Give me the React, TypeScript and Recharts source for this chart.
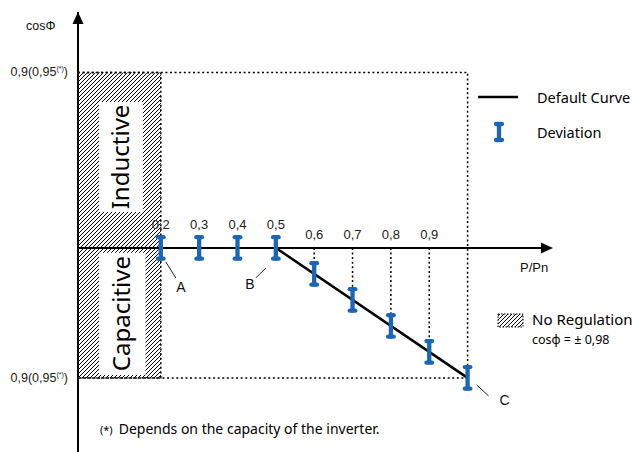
import React from 'react';
import {
  ComposedChart,
  Line,
  Scatter,
  ErrorBar,
  XAxis,
  YAxis,
  ReferenceArea,
  ReferenceLine,
  ReferenceDot,
} from 'recharts';

// P/Pn positions and the default cosΦ curve (y: signed offset from cosΦ = 1, capacitive below)
const curveX = [0.5, 1.0];
const curveY = [0, -0.1];
const ratios = [0.2, 0.3, 0.4, 0.5, 0.6, 0.7, 0.8, 0.9, 1.0];
const deviationY = [0, 0, 0, 0, -0.02, -0.04, -0.06, -0.08, -0.1];
const deviationErr = 0.0083;
const tickValues = [0.2, 0.3, 0.4, 0.5, 0.6, 0.7, 0.8, 0.9];
const tickLabels = ['0,2', '0,3', '0,4', '0,5', '0,6', '0,7', '0,8', '0,9'];
const dropX = [0.6, 0.7, 0.8, 0.9];
const dropY = [-0.02, -0.04, -0.06, -0.08];
const limitInductive = 0.135;
const limitCapacitive = -0.1;
const noRegulationEnd = 0.2;
const markNames = ['A', 'B', 'C'];
const markX = [0.2, 0.5, 1.0];
const markY = [0, 0, -0.1];

const curve = curveX.map((x, i) => ({ x, y: curveY[i] }));
const deviation = ratios.map((x, i) => ({ x, y: deviationY[i], err: deviationErr }));

const X_MIN = -0.0159;
const X_MAX = 1.2227;
const Y_MIN = -0.157;
const Y_MAX = 0.1815;

const BLUE = '#1b67b3';
const ARIAL = '"Liberation Sans", Arial, sans-serif';
const SEGOE = '"Noto Sans", "Open Sans", sans-serif';
const DOTS = '2 2.6';

// leader line + letter offsets for A, B, C
const markOffsets: Record<string, number[]> = {
  A: [5, 14, 15, 30, 20, 44],
  B: [-10, 20, -20, 30, -26, 41],
  C: [9, 7, 21, 18, 37, 27],
};

const YTick = (props: any) => (
  <text x={68} y={props.y} dy={4} textAnchor="end" fontSize={12.5} fontFamily={ARIAL} fill="#222">
    0,9(0,95
    <tspan fontSize={7} dy={-5}>(*)</tspan>
    <tspan dy={5}>)</tspan>
  </text>
);

const rotatedText = (label: string) => (p: any) => (
  <text
    x={p.cx}
    y={p.cy}
    transform={`rotate(-90 ${p.cx} ${p.cy})`}
    textAnchor="middle"
    dy={8}
    fontSize={24}
    fontFamily={SEGOE}
    fill="#000"
  >
    {label}
  </text>
);

const App = () => {
  return (
    <div style={{ position: 'absolute', left: 0, top: 0, width: 636, height: 452, background: '#fff' }}>
      <ComposedChart
        width={636}
        height={452}
        margin={{ top: 12, right: 83, left: 0, bottom: 0 }}
      >
        <defs>
          <pattern id="hatch" patternUnits="userSpaceOnUse" width="4" height="4">
            <path d="M-1,1 l2,-2 M0,4 l4,-4 M3,5 l2,-2" stroke="#000" strokeWidth={1} />
          </pattern>
        </defs>
        <XAxis
          type="number"
          dataKey="x"
          domain={[X_MIN, X_MAX]}
          allowDataOverflow
          hide
        />
        <YAxis
          type="number"
          dataKey="y"
          domain={[Y_MIN, Y_MAX]}
          allowDataOverflow
          width={78}
          ticks={[limitInductive, limitCapacitive]}
          tick={<YTick />}
          tickLine={false}
          axisLine={{ stroke: '#000', strokeWidth: 2 }}
        />

        {/* outer dotted frame */}
        <ReferenceArea
          x1={X_MIN}
          x2={1.0}
          y1={limitCapacitive}
          y2={limitInductive}
          fill="none"
          fillOpacity={0}
          stroke="#000"
          strokeWidth={1.5}
          strokeDasharray={DOTS}
        />
        {/* no regulation zone */}
        <ReferenceArea
          x1={X_MIN}
          x2={noRegulationEnd}
          y1={limitCapacitive}
          y2={limitInductive}
          fill="url(#hatch)"
          fillOpacity={1}
          stroke="#000"
          strokeWidth={1.5}
          strokeDasharray={DOTS}
        />
        <ReferenceArea x1={0.039} x2={0.154} y1={0.0277} y2={0.1123} fill="#fff" fillOpacity={1} stroke="none" />
        <ReferenceArea x1={0.039} x2={0.16} y1={-0.0977} y2={-0.0038} fill="#fff" fillOpacity={1} stroke="none" />
        <ReferenceDot x={0.096} y={0.07} r={0} shape={rotatedText('Inductive')} />
        <ReferenceDot x={0.098} y={-0.0505} r={0} shape={rotatedText('Capacitive')} />

        {/* drop lines to the axis */}
        {dropX.map((x, i) => (
          <ReferenceLine
            key={x}
            segment={[{ x, y: 0 }, { x, y: dropY[i] }]}
            stroke="#000"
            strokeWidth={1.5}
            strokeDasharray={DOTS}
          />
        ))}

        {/* x axis with arrow */}
        <ReferenceLine
          segment={[{ x: X_MIN, y: 0 }, { x: 1.2, y: 0 }]}
          stroke="#000"
          strokeWidth={2}
        />
        <ReferenceDot
          x={X_MAX}
          y={0}
          r={0}
          shape={(p: any) => (
            <path d={`M${p.cx},${p.cy} l-12,-5.5 l0,11 Z`} fill="#000" />
          )}
        />
        <ReferenceDot
          x={X_MIN}
          y={Y_MAX}
          r={0}
          shape={(p: any) => (
            <path d={`M${p.cx},${p.cy} l-5.5,12 l11,0 Z`} fill="#000" />
          )}
        />

        <Line
          data={curve}
          dataKey="y"
          type="linear"
          stroke="#000"
          strokeWidth={2.5}
          dot={false}
          activeDot={false}
          isAnimationActive={false}
        />
        <Scatter
          data={deviation}
          dataKey="y"
          shape={() => <g />}
          isAnimationActive={false}
        >
          <ErrorBar
            dataKey="err"
            direction="y"
            width={2.8}
            stroke={BLUE}
            strokeWidth={4.3}
            strokeLinecap="round"
            isAnimationActive={false}
          />
        </Scatter>

        {/* ratio labels */}
        {tickValues.map((x, i) => (
          <ReferenceDot
            key={'t' + x}
            x={x}
            y={0}
            r={0}
            shape={(p: any) => (
              <text
                x={p.cx}
                y={p.cy - (x <= 0.5 ? 23 : 13)}
                dy={4}
                textAnchor="middle"
                fontSize={13}
                fontFamily={ARIAL}
                fill="#222"
              >
                {tickLabels[i]}
              </text>
            )}
          />
        ))}

        {/* A, B, C markers */}
        {markNames.map((name, i) => (
          <ReferenceDot
            key={name}
            x={markX[i]}
            y={markY[i]}
            r={0}
            shape={(p: any) => {
              const o = markOffsets[name];
              return (
                <g>
                  <line
                    x1={p.cx + o[0]}
                    y1={p.cy + o[1]}
                    x2={p.cx + o[2]}
                    y2={p.cy + o[3]}
                    stroke="#222"
                    strokeWidth={1}
                  />
                  <text
                    x={p.cx + o[4]}
                    y={p.cy + o[5]}
                    textAnchor="middle"
                    fontSize={14}
                    fontFamily={ARIAL}
                    fill="#111"
                  >
                    {name}
                  </text>
                </g>
              );
            }}
          />
        ))}
      </ComposedChart>

      {/* axis titles */}
      <div style={{ position: 'absolute', left: 26, top: 19, fontSize: 12.5, fontFamily: ARIAL, color: '#111' }}>
        cosΦ
      </div>
      <div style={{ position: 'absolute', left: 520, top: 260, fontSize: 13, fontFamily: ARIAL, color: '#111' }}>
        P/Pn
      </div>

      {/* legend */}
      <svg style={{ position: 'absolute', left: 470, top: 80 }} width={60} height={260}>
        <line x1={8} y1={17} x2={48} y2={17} stroke="#000" strokeWidth={2.5} />
        <line x1={29} y1={45} x2={29} y2={59} stroke={BLUE} strokeWidth={4.3} strokeLinecap="round" />
        <line x1={26} y1={44} x2={32} y2={44} stroke={BLUE} strokeWidth={4.3} strokeLinecap="round" />
        <line x1={26} y1={60} x2={32} y2={60} stroke={BLUE} strokeWidth={4.3} strokeLinecap="round" />
        <rect x={28} y={234} width={25} height={13} fill="url(#hatch)" stroke="#000" strokeWidth={1} strokeDasharray="1.5 1.5" />
      </svg>
      <div style={{ position: 'absolute', left: 537, top: 87, fontSize: 14.5, fontFamily: SEGOE, color: '#000', whiteSpace: 'nowrap' }}>
        Default Curve
      </div>
      <div style={{ position: 'absolute', left: 537, top: 122, fontSize: 14.5, fontFamily: SEGOE, color: '#000', whiteSpace: 'nowrap' }}>
        Deviation
      </div>
      <div style={{ position: 'absolute', left: 532, top: 309, fontSize: 15, fontFamily: SEGOE, color: '#000', whiteSpace: 'nowrap' }}>
        No Regulation
      </div>
      <div style={{ position: 'absolute', left: 532, top: 331, fontSize: 12.5, fontFamily: SEGOE, color: '#000', whiteSpace: 'nowrap' }}>
        cosφ = ± 0,98
      </div>

      {/* footnote */}
      <div style={{ position: 'absolute', left: 100, top: 417, fontFamily: SEGOE, color: '#000', whiteSpace: 'nowrap' }}>
        <span style={{ fontSize: 11, marginRight: 6 }}>(*)</span>
        <span style={{ fontSize: 14 }}>Depends on the capacity of the inverter.</span>
      </div>
    </div>
  );
};

export default App;
